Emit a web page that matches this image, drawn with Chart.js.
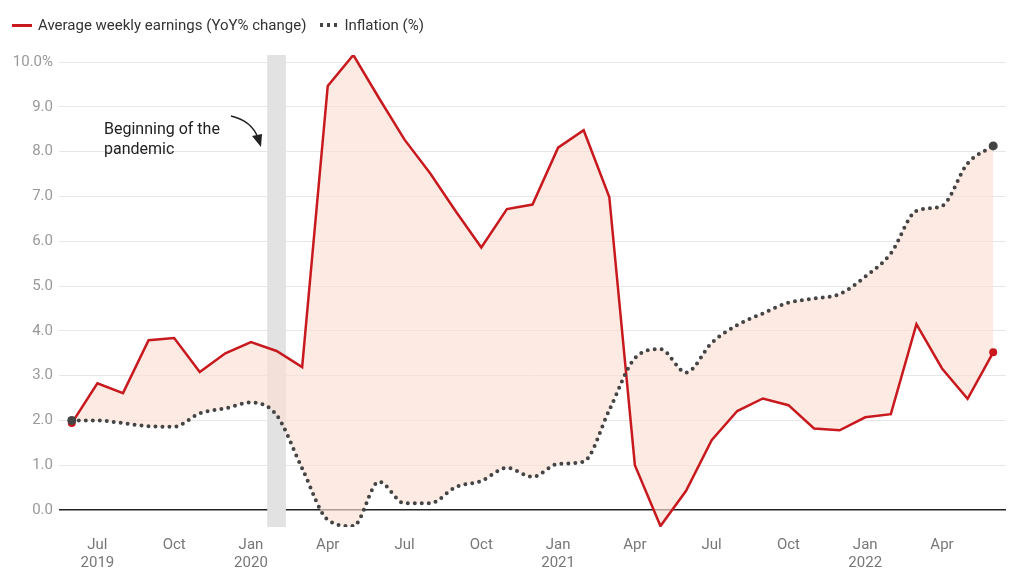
<!DOCTYPE html>
<html>
<head>
<meta charset="utf-8">
<script src="https://cdn.jsdelivr.net/npm/chart.js@4.4.0/dist/chart.umd.min.js"></script>
<style>
  body { margin: 0; background: #fff; font-family: Roboto, sans-serif; }
  #wrap { position: relative; width: 1020px; height: 583px; }
  #legend { position: absolute; left: 12px; top: 16px; font-size: 15px; color: #333; display: flex; align-items: center; }
  .sw { display: inline-block; margin-right: 6px; }
  .red { width: 20px; height: 3px; background: #c8191e; }
  .dots { width: 20px; height: 4px; background: radial-gradient(circle, #444 1.8px, transparent 2px) 0 0 / 7px 4px repeat-x; }
  #legend span.txt { margin-right: 12px; }
</style>
</head>
<body>
<div id="wrap">
  <div id="legend">
    <span class="sw red"></span><span class="txt">Average weekly earnings (YoY% change)</span>
    <span class="sw dots"></span><span class="txt">Inflation (%)</span>
  </div>
  <canvas id="chartCanvas" width="1020" height="583"></canvas>
</div>
<script>
// maanden jun 2019 - jun 2022
const months = [
  'Jun 2019','Jul 2019','Aug 2019','Sep 2019','Oct 2019','Nov 2019','Dec 2019',
  'Jan 2020','Feb 2020','Mar 2020','Apr 2020','May 2020','Jun 2020','Jul 2020','Aug 2020','Sep 2020','Oct 2020','Nov 2020','Dec 2020',
  'Jan 2021','Feb 2021','Mar 2021','Apr 2021','May 2021','Jun 2021','Jul 2021','Aug 2021','Sep 2021','Oct 2021','Nov 2021','Dec 2021',
  'Jan 2022','Feb 2022','Mar 2022','Apr 2022','May 2022','Jun 2022'
];
const earnings = [1.94, 2.83, 2.61, 3.79, 3.84, 3.08, 3.50, 3.75, 3.55, 3.19, 9.47, 10.16, 9.2, 8.27, 7.52, 6.67, 5.86, 6.72, 6.82, 8.09, 8.48, 6.99, 1.0, -0.36, 0.43, 1.56, 2.21, 2.49, 2.34, 1.82, 1.78, 2.07, 2.14, 4.15, 3.16, 2.48, 3.52];
const inflation = [2.0, 2.0, 1.94, 1.87, 1.86, 2.16, 2.27, 2.40, 2.12, 0.93, -0.22, -0.36, 0.63, 0.15, 0.15, 0.51, 0.65, 0.94, 0.74, 1.03, 1.08, 2.23, 3.39, 3.59, 3.07, 3.73, 4.13, 4.39, 4.63, 4.72, 4.82, 5.21, 5.73, 6.68, 6.79, 7.74, 8.13];
const pandemicMonth = 'Feb 2020';
const yTicks = [0, 1, 2, 3, 4, 5, 6, 7, 8, 9, 10];
const yMin = -0.38, yMax = 10.16;

const tickMonths = ['Jan', 'Apr', 'Jul', 'Oct'];

//grijze balk voor begin pandemie
const band = months.map(m => m === pandemicMonth ? [yMin, yMax] : null);

const endDot = (r) => (ctx) => (ctx.dataIndex === 0 || ctx.dataIndex === months.length - 1) ? r : 0;

// tekst + pijl
const annotatie = {
  id: 'annotatie',
  afterDatasetsDraw(chart) {
    const ctx = chart.ctx;
    ctx.save();
    ctx.fillStyle = '#222';
    ctx.font = '16px Roboto';
    ctx.textBaseline = 'middle';
    ctx.fillText('Beginning of the', 104, 130);
    ctx.fillText('pandemic', 104, 150);
    ctx.strokeStyle = '#222';
    ctx.lineWidth = 1.3;
    ctx.beginPath();
    ctx.moveTo(231, 116);
    ctx.quadraticCurveTo(252, 121, 258, 138);
    ctx.stroke();
    ctx.fillStyle = '#222';
    ctx.beginPath();
    ctx.moveTo(261, 147);
    ctx.lineTo(252, 136);
    ctx.lineTo(262, 134);
    ctx.closePath();
    ctx.fill();
    ctx.restore();
  }
};

const ctx = document.getElementById('chartCanvas').getContext('2d');
new Chart(ctx, {
  data: {
    labels: months,
    datasets: [
      {
        type: 'line',
        label: 'Average weekly earnings (YoY% change)',
        data: earnings,
        borderColor: '#c8191e',
        borderWidth: 2.5,
        backgroundColor: 'rgba(252, 222, 212, 0.65)',
        fill: '+1',
        tension: 0,
        pointRadius: endDot(4),
        pointBackgroundColor: '#c8191e',
        pointBorderWidth: 0,
        order: 2
      },
      {
        type: 'line',
        label: 'Inflation (%)',
        data: inflation,
        borderColor: '#444',
        borderWidth: 4,
        borderDash: [0, 7],
        borderCapStyle: 'round',
        cubicInterpolationMode: 'monotone',
        fill: false,
        pointRadius: endDot(4.5),
        pointBackgroundColor: '#444',
        pointBorderWidth: 0,
        order: 1
      },
      {
        type: 'bar',
        label: 'pandemic',
        data: band,
        backgroundColor: '#e2e2e2',
        barThickness: 18,
        order: 10
      }
    ]
  },
  options: {
    responsive: false,
    animation: false,
    layout: { padding: { top: 55, right: 14, left: 0, bottom: 0 } },
    plugins: {
      legend: { display: false },
      tooltip: { enabled: false }
    },
    scales: {
      x: {
        offset: true,
        grid: { display: false },
        border: { display: false },
        afterFit: (scale) => { scale.height = 56; },
        ticks: {
          autoSkip: false,
          maxRotation: 0,
          color: '#777',
          font: { family: 'Roboto', size: 15 },
          padding: 1,
          callback: function (value, index) {
            const lab = this.getLabelForValue(value);
            const [m, y] = lab.split(' ');
            if (!tickMonths.includes(m)) return '';
            if (m === 'Jan' || index === 1) return [m, y];
            return m;
          }
        }
      },
      y: {
        min: yMin,
        max: yMax,
        afterBuildTicks: (scale) => { scale.ticks = yTicks.map(v => ({ value: v })); },
        afterFit: (scale) => { scale.width = 59; },
        grid: {
          drawTicks: false,
          color: (c) => c.tick && c.tick.value === 0 ? '#222' : '#e6e6e6',
          lineWidth: (c) => c.tick && c.tick.value === 0 ? 1.5 : 1
        },
        border: { display: false },
        ticks: {
          color: '#999',
          font: { family: 'Roboto', size: 15 },
          padding: 6,
          callback: (v) => v === 10 ? '10.0%' : v.toFixed(1)
        }
      }
    }
  },
  plugins: [annotatie]
});
</script>
</body>
</html>
